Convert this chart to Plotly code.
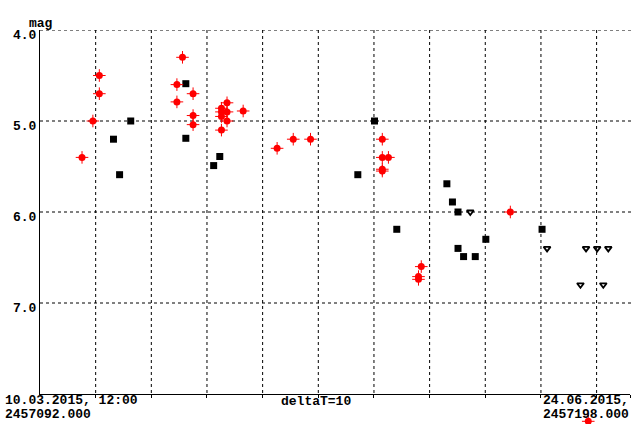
import plotly.graph_objects as go

JD0 = 2457092.0
# days since JD0, magnitudes
vis_t = [7.55, 9.5, 10.66, 10.66, 25.6, 24.6, 27.5, 24.6, 27.5, 27.5, 33.6, 32.6, 32.6, 33.6, 32.6, 36.5, 33.6, 32.6,
         42.6, 45.5, 48.6, 61.5, 61.5, 62.6, 61.5, 61.5, 68.5, 68.0, 68.0, 84.5, 98.5]
vis_m = [5.40, 5.00, 4.50, 4.70, 4.30, 4.60, 4.70, 4.79, 4.94, 5.04, 4.80, 4.86, 4.90, 4.90, 4.95, 4.89, 5.00, 5.10,
         5.30, 5.20, 5.20, 5.20, 5.40, 5.40, 5.53, 5.55, 6.60, 6.71, 6.74, 6.00, 8.30]
ccd_t = [16.3, 13.2, 14.3, 26.2, 26.2, 32.3, 31.2, 60.1, 57.1, 64.1, 73.1, 74.1, 75.1, 80.1, 75.1, 76.1, 78.2, 90.2]
ccd_m = [5.00, 5.20, 5.59, 4.59, 5.19, 5.39, 5.49, 5.00, 5.59, 6.19, 5.69, 5.89, 6.00, 6.30, 6.40, 6.49, 6.49, 6.19]
lim_t = [77.3, 91.1, 98.1, 100.1, 102.1, 97.1, 101.2]
lim_m = [6.00, 6.40, 6.40, 6.40, 6.40, 6.80, 6.80]

ytick_vals = [4, 5, 6, 7]
ytick_text = ["4.0", "5.0", "6.0", "7.0"]
xgrid = [10, 20, 30, 40, 50, 60, 70, 80, 90, 100, 106]

FONT = "Liberation Mono"

# page geometry: plot frame 40..630 x 30..394 ; total drawing height below top margin = 394 px
H_AREA = 394.0
PX_PER_MAG = 91.0
low_frac = 30.0 / H_AREA
y2_bottom = 4 + H_AREA / PX_PER_MAG

fig = go.Figure()
fig.add_trace(go.Scatter(x=ccd_t, y=ccd_m, mode="markers", yaxis="y2",
                         marker=dict(symbol="square", size=7, color="black", line=dict(width=0)),
                         cliponaxis=False, showlegend=False))
fig.add_trace(go.Scatter(x=lim_t, y=lim_m, mode="markers", yaxis="y2",
                         marker=dict(symbol="triangle-down-open", size=6, color="black", line=dict(width=1.8)),
                         cliponaxis=False, showlegend=False))
fig.add_trace(go.Scatter(x=vis_t, y=vis_m, mode="markers", yaxis="y2",
                         marker=dict(symbol="cross-thin-open", size=9, color="red", line=dict(width=1, color="red")),
                         cliponaxis=False, showlegend=False))
fig.add_trace(go.Scatter(x=vis_t, y=vis_m, mode="markers", yaxis="y2",
                         marker=dict(symbol="circle", size=7, color="red", line=dict(width=0)),
                         cliponaxis=False, showlegend=False))

# dotted grid lines
for gx in xgrid[:-1]:
    fig.add_shape(type="line", x0=gx, x1=gx, y0=4, y1=8, xref="x", yref="y",
                  line=dict(color="black", width=1, dash="dot"), layer="below")
for gy in ytick_vals:
    fig.add_shape(type="line", x0=0, x1=1.003, y0=gy, y1=gy, xref="paper", yref="y",
                  line=dict(color="black", width=1, dash="dot"), layer="below")

fig.update_layout(
    xaxis=dict(range=[0, 106], showgrid=False, zeroline=False, showline=True, linecolor="black", linewidth=1,
               ticks="outside", ticklen=3, tickcolor="black", tickvals=xgrid, showticklabels=False,
               anchor="y", automargin=False, fixedrange=True),
    yaxis=dict(range=[8, 4], domain=[low_frac, 1], showgrid=False, zeroline=False, showline=True,
               linecolor="black", linewidth=1, tickvals=ytick_vals, ticktext=ytick_text, ticks="",
               automargin=False, fixedrange=True, ticklabelshift=-4,
               tickfont=dict(family=FONT, size=13, color="black", weight="bold")),
    yaxis2=dict(range=[y2_bottom, 4], domain=[0, 1], anchor="x", visible=False, showgrid=False,
                zeroline=False, fixedrange=True),
)

ann_font = dict(family=FONT, size=13, color="black", weight="bold")
anns = [
    dict(text="mag", x=27, y=23, xanchor="left"),
    dict(text="10.03.2015, 12:00", x=3, y=400, xanchor="left"),
    dict(text=f"{JD0:.3f}", x=3, y=414, xanchor="left"),
    dict(text="deltaT=10", x=316, y=401, xanchor="center"),
    dict(text="24.06.2015,", x=631, y=400, xanchor="right"),
    dict(text=f"{JD0 + 106:.3f}", x=631, y=414, xanchor="right"),
]
for a in anns:
    fig.add_annotation(text=a["text"], x=(a["x"] - 40) / 590, y=1 - (a["y"] - 30) / H_AREA,
                       xref="paper", yref="paper", showarrow=False, font=ann_font,
                       xanchor=a["xanchor"], yanchor="middle")

fig.update_layout(width=640, height=424, margin=dict(l=40, r=10, t=30, b=0, pad=0),
                  paper_bgcolor="white", plot_bgcolor="rgba(0,0,0,0)", showlegend=False, hovermode=False)
fig.write_html("out.html", config={"displayModeBar": False},
               post_script="document.body.style.margin='0';document.body.style.overflow='hidden';")
